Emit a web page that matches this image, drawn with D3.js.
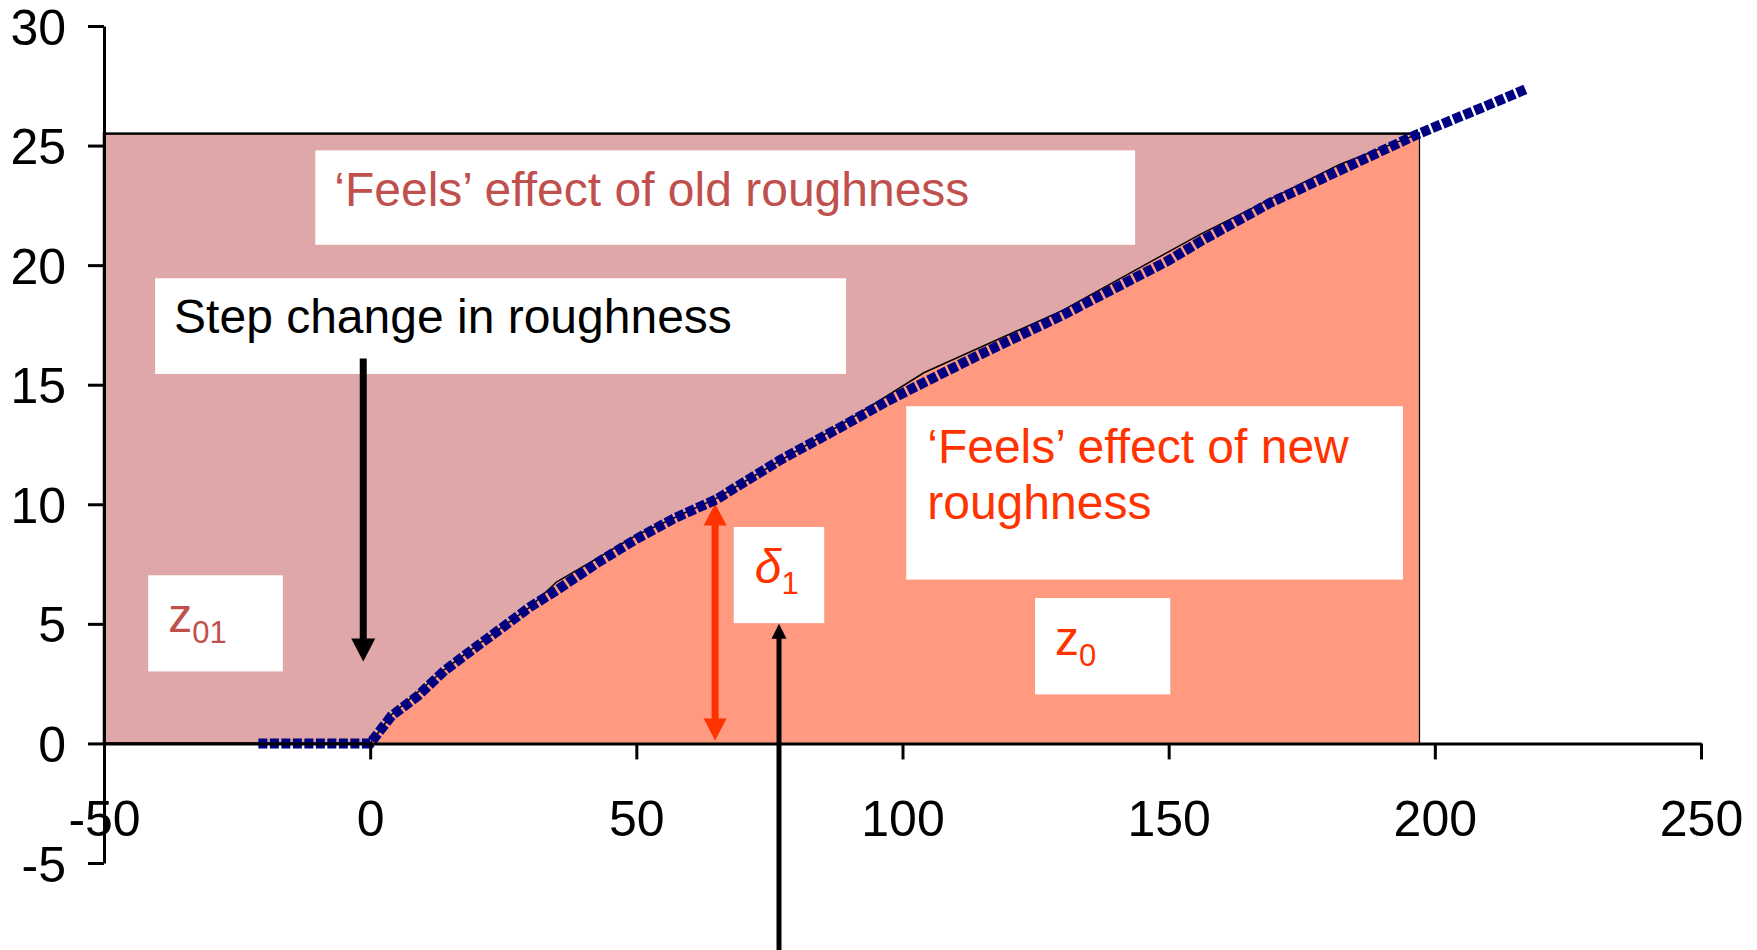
<!DOCTYPE html>
<html>
<head>
<meta charset="utf-8">
<script src="https://cdn.jsdelivr.net/npm/d3@7"></script>
<style>
  body { margin: 0; background: #fff; }
  svg text { font-family: "Liberation Sans", Arial, sans-serif; }
</style>
</head>
<body>
<div id="chart"></div>
<script>
// measured velocity-profile line (blue dotted)
var profileX = [-21, 0, 4, 9, 14, 20, 30, 35, 43, 50, 57, 65, 77, 89, 97, 105, 114, 130, 150, 156, 169, 183, 197, 209, 217];
var profileY = [0, 0, 1.15, 2.0, 3.05, 4.05, 5.7, 6.4, 7.6, 8.55, 9.4, 10.2, 11.85, 13.3, 14.3, 15.2, 16.2, 17.9, 20.2, 21.0, 22.6, 24.05, 25.5, 26.6, 27.35];

// edge of the new-roughness layer (filled area)
var edgeX = [0, 4, 14, 20, 30, 35, 50, 65, 89, 104, 130, 156, 182, 197];
var edgeY = [0, 1.2, 3.1, 4.1, 5.7, 6.75, 8.7, 10.25, 13.4, 15.5, 18.1, 21.3, 24.2, 25.5];

// old-roughness block
var blockX = [-50, 197];
var blockTop = 25.5;

var xTicks = [-50, 0, 50, 100, 150, 200, 250];
var yTicks = [-5, 0, 5, 10, 15, 20, 25, 30];

var width = 1757, height = 950;

var x = d3.scaleLinear().domain([-50, 250]).range([104, 1701]);
var y = d3.scaleLinear().domain([-5, 30]).range([863, 26]);

var svg = d3.select("#chart").append("svg")
    .attr("width", width)
    .attr("height", height);

// old roughness block
svg.append("rect")
    .attr("x", x(blockX[0]))
    .attr("y", y(blockTop))
    .attr("width", x(blockX[1]) - x(blockX[0]))
    .attr("height", y(0) - y(blockTop))
    .style("fill", "#dfa7a7")
    .style("stroke", "#000")
    .style("stroke-width", 2.5);

// new roughness area
var edge = edgeX.map(function(d, i) { return [d, edgeY[i]]; });
var area = d3.area()
    .x(function(d) { return x(d[0]); })
    .y0(y(0))
    .y1(function(d) { return y(d[1]); });

svg.append("path")
    .datum(edge)
    .attr("d", area)
    .style("fill", "#ff9980");

svg.append("path")
    .datum(edge)
    .attr("d", d3.line().x(function(d) { return x(d[0]); }).y(function(d) { return y(d[1]); }))
    .style("fill", "none")
    .style("stroke", "#000")
    .style("stroke-width", 1.5);

// text boxes (data coords for the box, px offsets for the text)
var boxes = [
  {x0: -10.3, x1: 143.7, top: 24.8, bottom: 20.85, color: "#c0504d", lines: ["\u2018Feels\u2019 effect of old roughness"], dx: 19, dy: 56},
  {x0: -40.4, x1: 89.4, top: 19.45, bottom: 15.45, color: "#000", lines: ["Step change in roughness"], dx: 19, dy: 55},
  {x0: 100.7, x1: 194.0, top: 14.1, bottom: 6.85, color: "#ff3300", lines: ["\u2018Feels\u2019 effect of new", "roughness"], dx: 21, dy: 57},
  {x0: -41.7, x1: -16.4, top: 7.03, bottom: 3.01, color: "#c0504d", main: "z", sub: "01", dx: 20, dy: 57},
  {x0: 68.3, x1: 85.3, top: 9.05, bottom: 5.03, color: "#ff3300", main: "\u03b4", sub: "1", italic: true, dx: 21, dy: 56},
  {x0: 124.9, x1: 150.3, top: 6.08, bottom: 2.05, color: "#ff3300", main: "z", sub: "0", dx: 20, dy: 57}
];

boxes.forEach(function(b) {
  svg.append("rect")
      .attr("x", x(b.x0))
      .attr("y", y(b.top))
      .attr("width", x(b.x1) - x(b.x0))
      .attr("height", y(b.bottom) - y(b.top))
      .style("fill", "#fff");
  var t = svg.append("text")
      .attr("x", x(b.x0) + b.dx)
      .attr("y", y(b.top) + b.dy)
      .style("font-size", "48px")
      .style("fill", b.color);
  if (b.lines) {
    b.lines.forEach(function(l, i) {
      t.append("tspan")
          .attr("x", x(b.x0) + b.dx)
          .attr("dy", i == 0 ? 0 : 55.6)
          .text(l);
    });
  } else {
    t.append("tspan")
        .style("font-style", b.italic ? "italic" : "normal")
        .text(b.main);
    t.append("tspan")
        .attr("dy", 11)
        .style("font-size", "31px")
        .text(b.sub);
  }
});

// arrows
function arrow(ax, yFrom, yTo, w, headW, headL, color, both) {
  var px = x(ax), p0 = y(yFrom), p1 = y(yTo);
  var dir = p1 < p0 ? -1 : 1;
  svg.append("line")
      .attr("x1", px).attr("x2", px)
      .attr("y1", both ? p0 + dir * headL * 0.8 : p0)
      .attr("y2", p1 - dir * headL * 0.8)
      .style("stroke", color)
      .style("stroke-width", w);
  function head(tip, d) {
    svg.append("path")
        .attr("d", "M" + px + "," + tip +
          "L" + (px - headW / 2) + "," + (tip - d * headL) +
          "L" + (px + headW / 2) + "," + (tip - d * headL) + "Z")
        .style("fill", color);
  }
  head(p1, dir);
  if (both) head(p0, -dir);
}

arrow(-1.3, 16.1, 3.43, 7, 24, 23, "#000", false);
arrow(64.8, 0.12, 10.03, 7, 23, 22, "#ff3300", true);
arrow(76.8, -8.7, 5.0, 5, 15, 15, "#000", false);

// profile line
var profile = profileX.map(function(d, i) { return [d, profileY[i]]; });
svg.append("path")
    .datum(profile)
    .attr("d", d3.line().x(function(d) { return x(d[0]); }).y(function(d) { return y(d[1]); }))
    .style("fill", "none")
    .style("stroke", "#000080")
    .style("stroke-width", 10)
    .style("stroke-dasharray", "9,2.5");

// axes
var xAxis = d3.axisBottom(x).tickValues(xTicks).tickSize(16).tickSizeOuter(0)
    .tickFormat(function(d) { return String(d); });
var yAxis = d3.axisLeft(y).tickValues(yTicks).tickSize(16).tickSizeOuter(0)
    .tickFormat(function(d) { return String(d); });

var gx = svg.append("g")
    .attr("transform", "translate(0," + y(0) + ")")
    .call(xAxis);
gx.selectAll("text").attr("y", 93).attr("dy", 0);

var gy = svg.append("g")
    .attr("transform", "translate(" + x(-50) + ",0)")
    .call(yAxis);
gy.selectAll("text").attr("x", -38).attr("dy", "0.36em");

svg.selectAll(".domain").style("stroke", "#000").style("stroke-width", 3);
svg.selectAll(".tick line").style("stroke", "#000").style("stroke-width", 3);
svg.selectAll(".tick text")
    .style("font-family", "Liberation Sans, Arial, sans-serif")
    .style("font-size", "50px")
    .style("fill", "#000");
</script>
</body>
</html>
